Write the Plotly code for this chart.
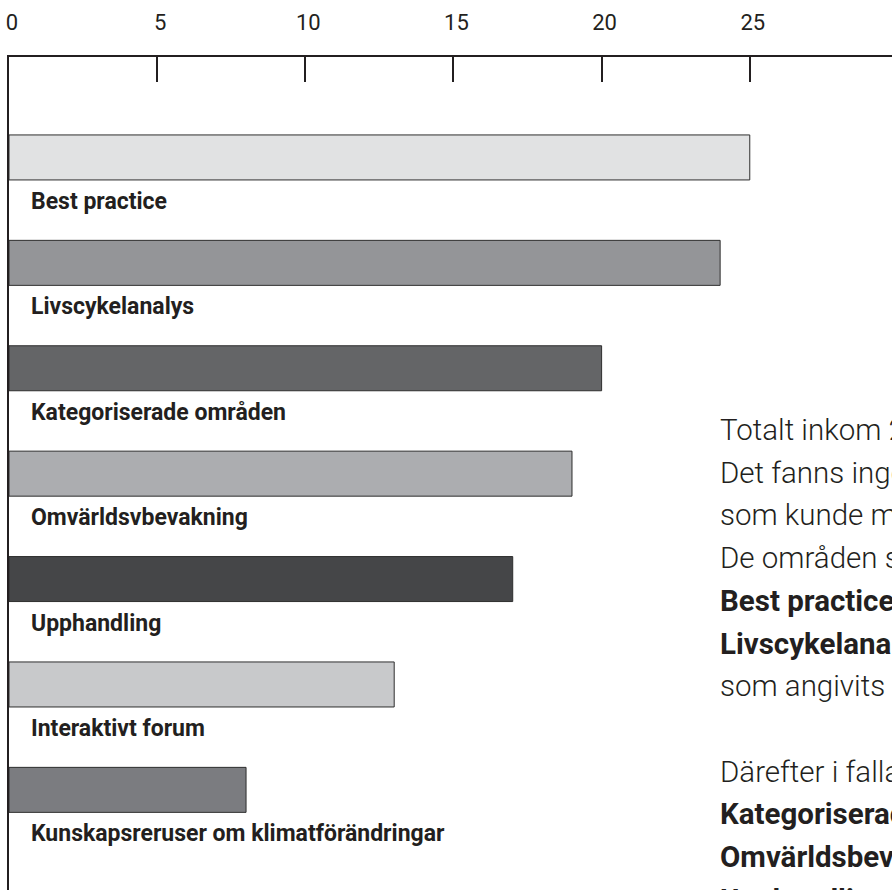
import plotly.graph_objects as go

categories = ["Best practice", "Livscykelanalys", "Kategoriserade områden",
              "Omvärldsvbevakning", "Upphandling", "Interaktivt forum",
              "Kunskapsreruser om klimatförändringar"]
values = [25, 24, 20, 19, 17, 13, 8]
bar_colors = ["#e1e2e3", "#949598", "#646567", "#acadb0", "#454648", "#c8c9cb", "#7b7c80"]
tick_values = [0, 5, 10, 15, 20, 25]

side_lines = [
    ("Totalt inkom 25 svar.", False),
    ("Det fanns ingen begränsning för antal svar", False),
    ("som kunde markeras.", False),
    ("De områden som flest angav var", False),
    ("Best practice och", True),
    ("Livscykelanalys", True),
    ("som angivits av nästan alla.", False),
    ("", False),
    ("Därefter i fallande ordning:", False),
    ("Kategoriserade områden", True),
    ("Omvärldsbevakning", True),
    ("Upphandling", True),
]

W, H = 892, 890
ML, MT = 8.5, 57
DARK = "#231f20"

fig = go.Figure()
fig.add_trace(go.Bar(
    x=values, y=categories, orientation="h",
    marker=dict(color=bar_colors, line=dict(color="#2e2e2e", width=1)),
    width=0.427, hoverinfo="skip",
))

annotations = []
for c in categories:
    annotations.append(dict(
        x=0, y=c, xref="x", yref="y", text=c, showarrow=False,
        xanchor="left", yanchor="middle", xshift=19.5, yshift=-44,
        font=dict(family="Roboto", size=23, color=DARK, weight=700),
    ))

plot_h = H - MT
for i, (txt, bold) in enumerate(side_lines):
    if not txt:
        continue
    py = 430 + i * 42.7
    annotations.append(dict(
        x=(718 - ML) / (W - ML), y=(H - py) / plot_h, xref="paper", yref="paper",
        text=txt, showarrow=False, xanchor="left", yanchor="middle",
        font=dict(family="Roboto", size=29.5, color=DARK, weight=700 if bold else 300),
    ))

fig.update_layout(
    width=W, height=H,
    margin=dict(l=ML, r=0, t=MT, b=0, pad=0),
    paper_bgcolor="white", plot_bgcolor="white",
    showlegend=False,
    annotations=annotations,
    xaxis=dict(
        side="top", range=[0, 29.8], tickvals=tick_values,
        ticktext=[str(v) for v in tick_values],
        ticks="inside", ticklen=25, tickwidth=2, tickcolor=DARK,
        showline=True, linecolor=DARK, linewidth=2,
        showgrid=False, zeroline=False,
        tickfont=dict(family="Roboto", size=22, color=DARK),
        ticklabelstandoff=16, ticklabelshift=3,
    ),
    yaxis=dict(
        type="category", categoryorder="array", categoryarray=categories,
        range=[6.95, -0.953], showticklabels=False, ticks="",
        showline=True, linecolor=DARK, linewidth=2,
        showgrid=False, zeroline=False,
    ),
)

fig.write_html(
    "out.html",
    config={"displayModeBar": False},
    post_script="document.body.style.margin='0';document.documentElement.style.overflow='hidden';document.body.style.overflow='hidden';",
)
